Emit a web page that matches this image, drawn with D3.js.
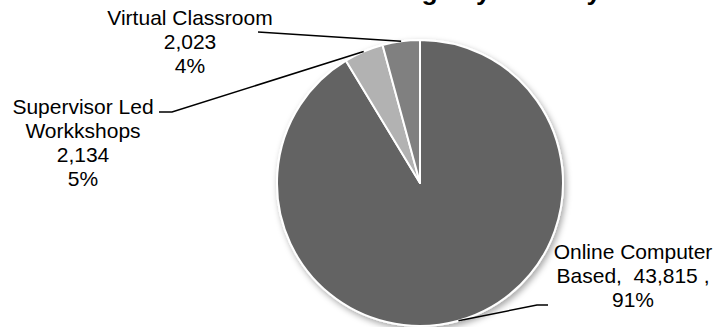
<!DOCTYPE html>
<html>
<head>
<meta charset="utf-8">
<script src="https://cdn.jsdelivr.net/npm/d3@7"></script>
<style>
  html, body { margin: 0; padding: 0; background: #fff; }
  svg { display: block; }
  text { font-family: "Liberation Sans", Arial, sans-serif; fill: #000; white-space: pre; }
</style>
</head>
<body>
<div id="chart"></div>
<script>
// data
const categories = ['Online Computer Based', 'Supervisor Led Workkshops', 'Virtual Classroom'];
const values = [43815, 2134, 2023];
const percentLabels = ['91%', '5%', '4%'];
const colors = ['#646464', '#b2b2b2', '#808080'];

const W = 719, H = 327;
const cx = 420, cy = 183, radius = 143;

const svg = d3.select('#chart').append('svg')
    .attr('width', W)
    .attr('height', H);

// soft shadow like the excel pie
const defs = svg.append('defs');
const shadow = defs.append('filter')
    .attr('id', 'pieShadow')
    .attr('x', '-10%').attr('y', '-10%')
    .attr('width', '130%').attr('height', '130%');
shadow.append('feDropShadow')
    .attr('dx', 2).attr('dy', 3)
    .attr('stdDeviation', 3)
    .attr('flood-color', '#000')
    .attr('flood-opacity', 0.35);

// title sits mostly above the frame, only descenders show
svg.append('text')
    .attr('x', 373)
    .attr('y', 0)
    .style('font-size', '26.5px')
    .style('font-weight', 'bold')
    .text('Usage by Delivery');

const pie = d3.pie().sort(null).value(d => d)(values);
const arc = d3.arc().innerRadius(0).outerRadius(radius);

const g = svg.append('g')
    .attr('transform', `translate(${cx}, ${cy})`);

g.append('g')
    .attr('filter', 'url(#pieShadow)')
    .selectAll('path')
    .data(pie)
    .enter()
    .append('path')
        .attr('d', arc)
        .attr('fill', (d, i) => colors[i])
        .attr('stroke', '#fff')
        .attr('stroke-width', 2)
        .attr('stroke-linejoin', 'round');

// label layout, relative to the pie centre (manual excel placement)
const fmt = d3.format(',');
const labelLines = [
    ['Online Computer', `Based,  ${fmt(values[0])} ,`, percentLabels[0]],
    ['Supervisor Led', 'Workkshops', fmt(values[1]), percentLabels[1]],
    ['Virtual Classroom', fmt(values[2]), percentLabels[2]]
];
const labelPos = [
    { x: 213, y: 76, leader: [[117, 122], [128, 122]] },
    { x: -337, y: -69, leader: [[-248, -71], [-261, -71]] },
    { x: -230, y: -158, leader: [[-162, -151]] }
];
const lineH = 24;

const outer = d3.arc().innerRadius(radius).outerRadius(radius);

pie.forEach((d, i) => {
    const [px, py] = outer.centroid(d);
    const pts = [[px, py]].concat(labelPos[i].leader);
    g.append('path')
        .attr('d', d3.line()(pts))
        .attr('fill', 'none')
        .attr('stroke', '#000')
        .attr('stroke-width', 1.5);

    const t = g.append('text')
        .attr('text-anchor', 'middle')
        .style('font-size', '21px');
    labelLines[i].forEach((line, j) => {
        t.append('tspan')
            .attr('x', labelPos[i].x)
            .attr('y', labelPos[i].y + j * lineH)
            .text(line);
    });
});
</script>
</body>
</html>
